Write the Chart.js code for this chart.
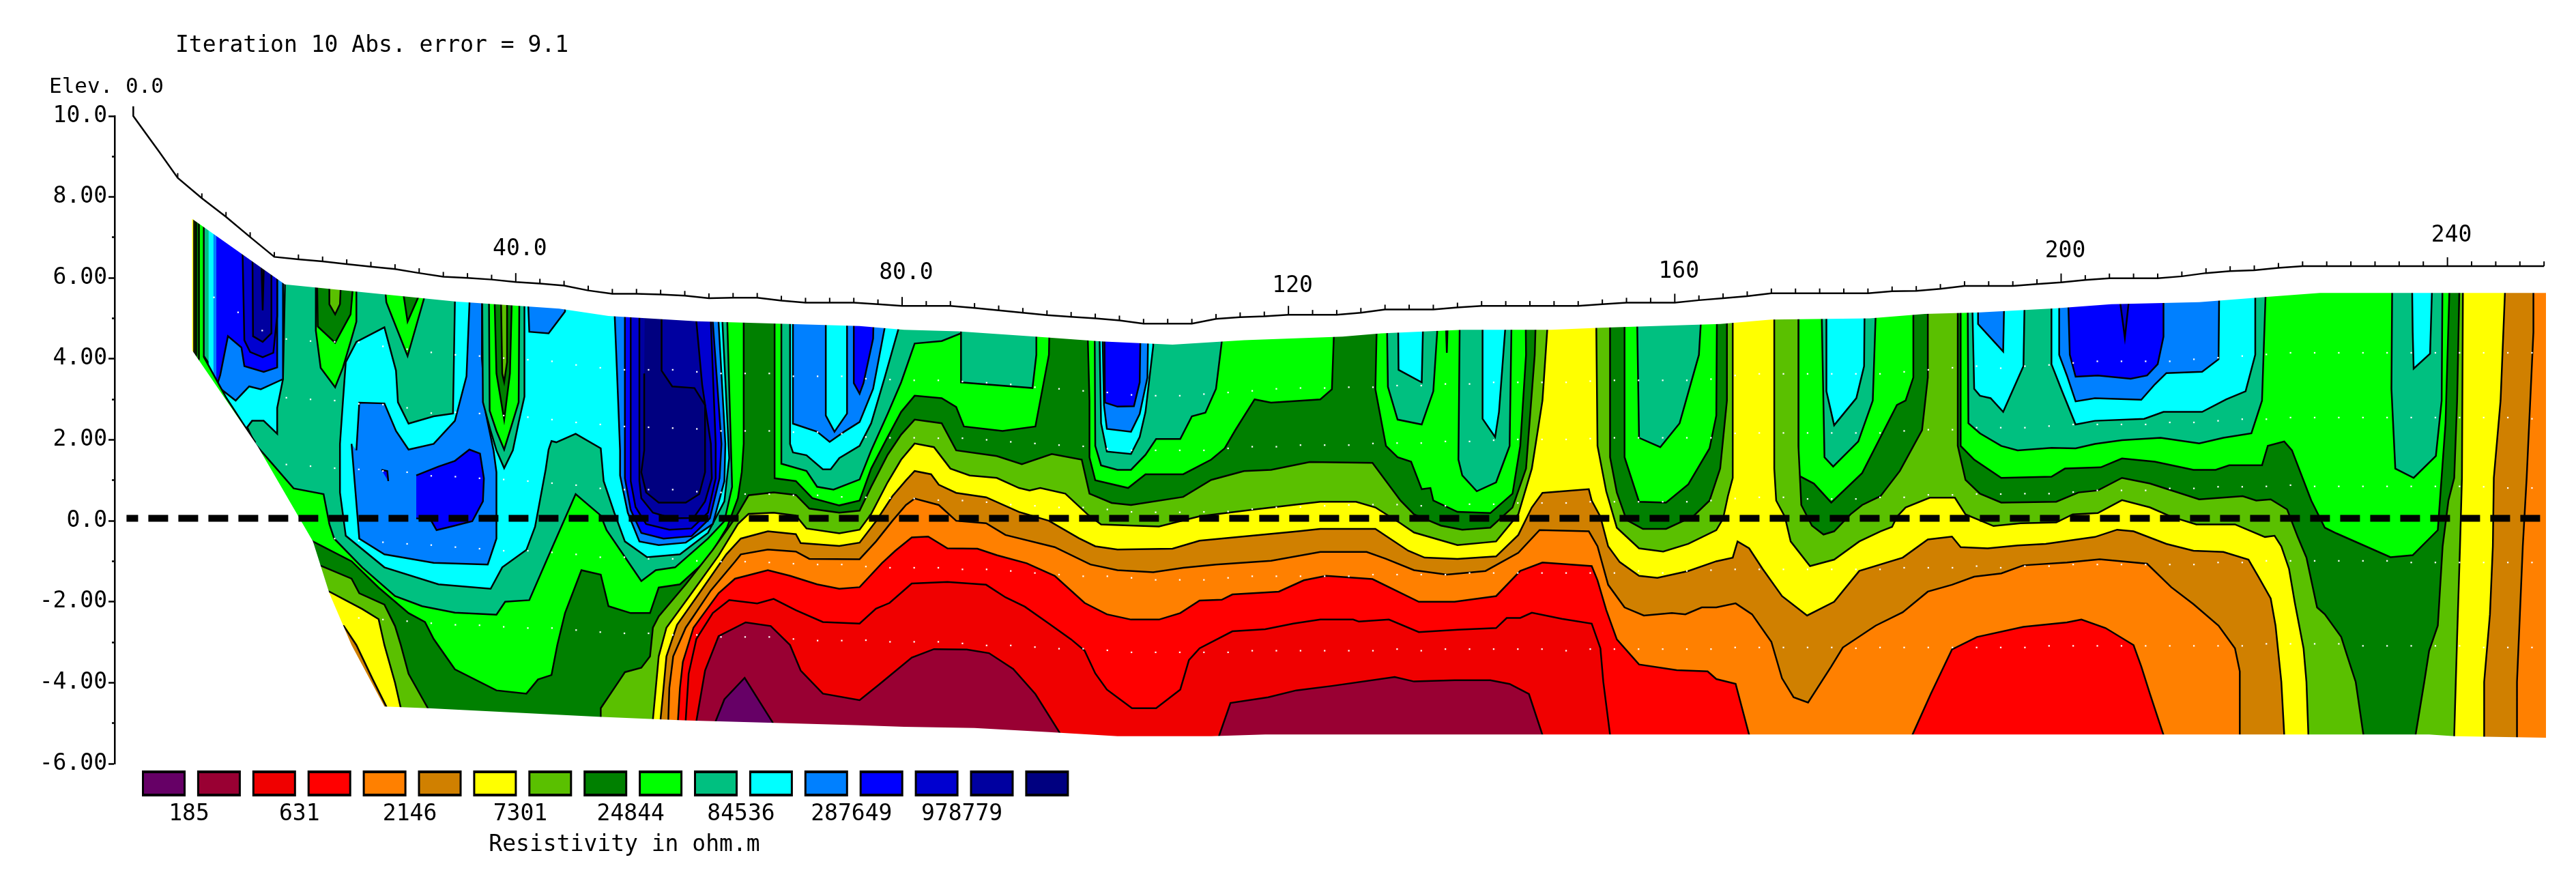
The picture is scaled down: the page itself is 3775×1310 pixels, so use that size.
<!DOCTYPE html>
<html>
<head>
<meta charset="utf-8">
<title>Iteration 10</title>
<script src="https://cdn.jsdelivr.net/npm/chart.js@4/dist/chart.umd.js"></script>
<style>
  html, body { margin: 0; padding: 0; background: #fff; }
  canvas { display: block; }
</style>
</head>
<body>
<canvas id="section" width="3775" height="1310"></canvas>
<script>
// Colour scale, lowest resistivity first
const scaleColors = ['#660066', '#990033', '#f00000', '#ff0000', '#ff8000', '#d08000', '#ffff00', '#5ac000',
  '#008000', '#00ff00', '#00c080', '#00ffff', '#0080ff', '#0000ff', '#0000d0', '#0000a0', '#000080'];
const scaleLabels = ['185', '631', '2146', '7301', '24844', '84536', '287649', '978779'];

const elevationTicks = { '10': '10.0', '8': '8.00', '6': '6.00', '4': '4.00', '2': '2.00', '0': '0.0', '-2': '-2.00', '-4': '-4.00', '-6': '-6.00' };
const distanceLabels = ['40.0', '80.0', '120', '160', '200', '240'];
const distanceLabelX = [40, 80, 120, 160, 200, 240];
const distanceLabelElev = [6.71, 6.12, 5.8, 6.15, 6.66, 7.04];

// Ground surface and electrodes
const surfaceX = [0.4, 0.4, 1.7, 3.1, 5, 7.5, 10, 12.5, 15, 17.5, 20, 22.5, 25, 27.5, 30, 32.5, 35, 37.5, 40, 42.5, 45, 47.5, 50, 52.5, 55, 57.5, 60, 62.5, 65, 67.5, 70, 72.5, 75, 77.5, 80, 82.5, 85, 87.5, 90, 92.5, 95, 97.5, 100, 102.5, 105, 107.5, 110, 112.5, 115, 117.5, 120, 122.5, 125, 127.5, 130, 132.5, 135, 137.5, 140, 142.5, 145, 147.5, 150, 152.5, 155, 157.5, 160, 162.5, 165, 167.5, 170, 172.5, 175, 177.5, 180, 182.5, 185, 187.5, 190, 192.5, 195, 197.5, 200, 202.5, 205, 207.5, 210, 212.5, 215, 217.5, 220, 222.5, 225, 227.5, 230, 232.5, 235, 237.5, 240, 242.5, 245, 247.5, 250];
const surfaceY = [10.24, 10, 9.57, 9.11, 8.47, 7.97, 7.51, 7.01, 6.52, 6.46, 6.41, 6.34, 6.28, 6.22, 6.12, 6.03, 6, 5.96, 5.9, 5.86, 5.81, 5.69, 5.61, 5.61, 5.59, 5.56, 5.5, 5.51, 5.51, 5.44, 5.39, 5.39, 5.39, 5.35, 5.31, 5.31, 5.31, 5.26, 5.2, 5.14, 5.08, 5.04, 5, 4.95, 4.87, 4.87, 4.87, 4.99, 5.03, 5.05, 5.09, 5.09, 5.09, 5.14, 5.22, 5.22, 5.22, 5.27, 5.31, 5.31, 5.31, 5.31, 5.31, 5.35, 5.39, 5.39, 5.39, 5.45, 5.5, 5.55, 5.62, 5.62, 5.62, 5.62, 5.62, 5.67, 5.68, 5.73, 5.8, 5.8, 5.8, 5.85, 5.89, 5.95, 5.99, 5.99, 5.99, 6.04, 6.12, 6.17, 6.19, 6.25, 6.29, 6.29, 6.29, 6.29, 6.29, 6.29, 6.29, 6.29, 6.29, 6.29, 6.29];

// Edge of the inverted section
const sectionTop = [[6.5, 4.21], [6.5, 7.46], [16.1, 5.84], [33.7, 5.42], [44.5, 5.24], [49.6, 5.06], [58.7, 4.93], [75.6, 4.81], [80.2, 4.72], [85.8, 4.68], [93.8, 4.55], [100.6, 4.43], [108, 4.35], [115.4, 4.46], [125.6, 4.55], [129.6, 4.63], [138, 4.72], [147.2, 4.72], [152.3, 4.77], [164.7, 4.86], [170, 4.97], [180.2, 5], [185.9, 5.11], [191.6, 5.15], [199.5, 5.25], [205.2, 5.35], [214.3, 5.4], [221.1, 5.53], [226.8, 5.63], [250.2, 5.63]];
const sectionBottom = [[6.5, 4.21], [13.3, 1.83], [19, -0.51], [20.7, -1.79], [23, -3.07], [26.4, -4.59], [30.9, -4.63], [48.5, -4.84], [57.3, -4.93], [75.6, -5.05], [80.2, -5.09], [87.5, -5.12], [95.2, -5.22], [102.3, -5.32], [112, -5.32], [117.6, -5.28], [164.3, -5.28], [238.1, -5.28], [240.7, -5.32], [250.2, -5.36]];

// Datum points
const dotX = [8.75, 11.25, 13.75, 16.25, 18.75, 21.25, 23.75, 26.25, 28.75, 31.25, 33.75, 36.25, 38.75, 41.25, 43.75, 46.25, 48.75, 51.25, 53.75, 56.25, 58.75, 61.25, 63.75, 66.25, 68.75, 71.25, 73.75, 76.25, 78.75, 81.25, 83.75, 86.25, 88.75, 91.25, 93.75, 96.25, 98.75, 101.25, 103.75, 106.25, 108.75, 111.25, 113.75, 116.25, 118.75, 121.25, 123.75, 126.25, 128.75, 131.25, 133.75, 136.25, 138.75, 141.25, 143.75, 146.25, 148.75, 151.25, 153.75, 156.25, 158.75, 161.25, 163.75, 166.25, 168.75, 171.25, 173.75, 176.25, 178.75, 181.25, 183.75, 186.25, 188.75, 191.25, 193.75, 196.25, 198.75, 201.25, 203.75, 206.25, 208.75, 211.25, 213.75, 216.25, 218.75, 221.25, 223.75, 226.25, 228.75, 231.25, 233.75, 236.25, 238.75, 241.25, 243.75, 246.25, 248.75];
const dotRow1 = [5.52, 5.15, 4.7, 4.49, 4.44, 4.42, 4.41, 4.31, 4.24, 4.16, 4.1, 4.07, 4.02, 3.98, 3.94, 3.85, 3.78, 3.73, 3.73, 3.73, 3.68, 3.64, 3.64, 3.64, 3.57, 3.57, 3.57, 3.51, 3.49, 3.47, 3.47, 3.44, 3.41, 3.37, 3.3, 3.26, 3.21, 3.17, 3.11, 3.09, 3.09, 3.13, 3.17, 3.21, 3.26, 3.28, 3.28, 3.3, 3.3, 3.34, 3.34, 3.38, 3.38, 3.42, 3.42, 3.42, 3.42, 3.45, 3.47, 3.47, 3.47, 3.47, 3.5, 3.59, 3.63, 3.63, 3.63, 3.63, 3.63, 3.63, 3.68, 3.73, 3.78, 3.82, 3.77, 3.82, 3.85, 3.9, 3.94, 3.94, 3.94, 3.94, 3.99, 4.03, 4.07, 4.11, 4.15, 4.15, 4.15, 4.15, 4.15, 4.15, 4.15, 4.15, 4.15, 4.15, 4.15];
const dotRow2 = [null, null, null, 3.04, 3, 2.97, 2.89, 2.87, 2.79, 2.66, 2.68, 2.65, 2.6, 2.56, 2.5, 2.43, 2.38, 2.33, 2.31, 2.29, 2.27, 2.22, 2.22, 2.22, 2.19, 2.19, 2.15, 2.07, 2.05, 2.05, 2.04, 2.04, 2, 1.95, 1.91, 1.87, 1.84, 1.78, 1.74, 1.74, 1.74, 1.74, 1.79, 1.83, 1.83, 1.87, 1.87, 1.87, 1.91, 1.92, 1.92, 1.96, 1.96, 1.99, 2.01, 2.01, 2.01, 2.03, 2.05, 2.05, 2.05, 2.05, 2.05, 2.16, 2.17, 2.17, 2.17, 2.17, 2.17, 2.17, 2.22, 2.25, 2.25, 2.3, 2.3, 2.3, 2.34, 2.38, 2.38, 2.38, 2.38, 2.43, 2.43, 2.47, 2.51, 2.51, 2.55, 2.55, 2.55, 2.55, 2.55, 2.55, 2.55, 2.55, 2.55, 2.55, 2.52];
const dotRow3 = [null, null, null, 1.39, 1.35, 1.3, 1.27, 1.23, 1.2, 1.11, 1.09, 1.05, 1.02, 0.98, 0.93, 0.88, 0.8, 0.77, 0.77, 0.77, 0.72, 0.7, 0.66, 0.66, 0.63, 0.63, 0.59, 0.58, 0.56, 0.55, 0.51, 0.5, 0.46, 0.4, 0.37, 0.33, 0.33, 0.28, 0.22, 0.21, 0.21, 0.22, 0.23, 0.29, 0.33, 0.34, 0.37, 0.39, 0.4, 0.4, 0.37, 0.37, 0.41, 0.41, 0.44, 0.44, 0.44, 0.47, 0.47, 0.47, 0.47, 0.47, 0.5, 0.55, 0.58, 0.58, 0.54, 0.54, 0.54, 0.58, 0.58, 0.64, 0.64, 0.66, 0.66, 0.67, 0.67, 0.71, 0.75, 0.75, 0.75, 0.8, 0.8, 0.84, 0.84, 0.85, 0.88, 0.85, 0.85, 0.85, 0.85, 0.85, 0.85, 0.85, 0.84, 0.81, 0.81];
const dotRow4 = [null, null, null, null, null, -0.44, -0.49, -0.53, -0.57, -0.6, -0.65, -0.69, -0.74, -0.74, -0.78, -0.83, -0.9, -0.9, -0.94, -0.94, -0.99, -1.01, -1.01, -1.03, -1.06, -1.08, -1.08, -1.13, -1.16, -1.16, -1.16, -1.2, -1.2, -1.24, -1.29, -1.33, -1.37, -1.37, -1.41, -1.46, -1.46, -1.46, -1.41, -1.37, -1.37, -1.37, -1.37, -1.37, -1.33, -1.33, -1.33, -1.33, -1.29, -1.29, -1.29, -1.29, -1.29, -1.29, -1.29, -1.24, -1.29, -1.24, -1.22, -1.2, -1.2, -1.2, -1.2, -1.2, -1.2, -1.2, -1.16, -1.16, -1.16, -1.12, -1.16, -1.12, -1.12, -1.08, -1.08, -1.08, -1.08, -1.08, -1.08, -1.03, -1.03, -0.99, -0.99, -0.99, -0.99, -0.99, -0.99, -1.03, -1.03, -1.03, -1.03, -1.03, -1.03];
const dotRow5 = [null, null, null, null, null, null, -2.4, -2.44, -2.48, -2.53, -2.57, -2.58, -2.62, -2.65, -2.65, -2.7, -2.75, -2.78, -2.78, -2.82, -2.82, -2.87, -2.87, -2.87, -2.92, -2.96, -2.96, -2.95, -2.99, -2.99, -2.99, -3.03, -3.08, -3.08, -3.12, -3.16, -3.16, -3.2, -3.25, -3.25, -3.25, -3.25, -3.25, -3.21, -3.21, -3.21, -3.21, -3.21, -3.21, -3.17, -3.21, -3.17, -3.17, -3.17, -3.17, -3.17, -3.21, -3.17, -3.17, -3.17, -3.17, -3.17, -3.17, -3.13, -3.13, -3.13, -3.13, -3.13, -3.15, -3.13, -3.13, -3.13, -3.13, -3.13, -3.13, -3.13, -3.09, -3.09, -3.09, -3.09, -3.09, -3.09, -3.09, -3.09, -3.09, -3.04, -3.04, -3.04, -3.04, -3.09, -3.09, -3.09, -3.09, -3.09, -3.13, -3.13, -3.13];

// Contours, [distance, elevation]. Each one is the outline of everything at or beyond its level.
const baseGreen = [[-5, -7], [260, -7], [260, 12], [-5, 12]];

const rho8 = [[17, -0.3], [19, -0.51], [23, -1], [25.8, -1.65], [28.9, -2.28], [30.6, -2.5], [31.5, -2.92], [33.7, -3.67], [38, -4.19], [41.1, -4.27], [42.3, -3.92], [43.7, -3.81], [44.3, -3.07], [45.1, -2.28], [46.8, -1.22], [48.8, -1.33], [49.6, -2.11], [51.9, -2.28], [53.9, -2.28], [54.8, -1.65], [57, -1.57], [59.9, -0.94], [61.9, -0.15], [63, 0.56], [63.4, 1.2], [63.6, 1.9], [63.6, 6.5], [66.8, 6.5], [66.8, 1.05], [69, 0.98], [70.7, 0.56], [73.5, 0.38], [75.6, 0.5], [76.8, 1.29], [78.5, 2.07], [79.9, 2.69], [81.3, 3.09], [84.1, 3.03], [85.6, 2.81], [86.4, 2.33], [90.4, 2.22], [93.8, 2.33], [95.2, 4.1], [95.4, 6.5], [99, 6.5], [99.4, 2.97], [99.4, 1.57], [100, 1], [103.4, 0.81], [105.2, 1.15], [109.1, 1.15], [112, 1.51], [113.4, 1.79], [114.5, 2.24], [116.5, 3], [118.2, 2.92], [123.3, 3], [124.5, 3.25], [125, 6.5], [129.3, 6.5], [129, 3.25], [130.1, 1.85], [131.3, 1.57], [132.7, 1.46], [133.8, 0.78], [134.7, 0.81], [135, 0.5], [137.5, 0.22], [140.9, 0.19], [143.2, 0.67], [144, 1.85], [144.6, 4.1], [144.5, 6.5], [154.8, 6.5], [154.8, 1.57], [156.3, 0.47], [159.1, 0.45], [161.4, 0.9], [163.6, 1.79], [164.3, 2.6], [164.4, 6.5], [172.8, 6.5], [172.8, 1.12], [174.4, 0.92], [176.2, 0.45], [179.4, 1.18], [183, 2.86], [183.9, 2.97], [184.7, 3.54], [184.7, 6.5], [189.6, 6.5], [189.6, 1.85], [191, 1.51], [193.8, 1.06], [199, 1.09], [200.4, 1.29], [204.1, 1.32], [206.3, 1.54], [209.7, 1.46], [213.7, 1.26], [216, 1.26], [217.4, 1.37], [220.8, 1.37], [221.4, 1.85], [223.1, 1.96], [223.9, 1.74], [225.9, 0.5], [227.3, -0.17], [228.5, -0.31], [234.1, -0.9], [236.4, -0.85], [239, -0.23], [239.8, 2.41], [240.2, 5.67], [240.2, 6.5], [260, 6.5], [260, -7], [15, -7]];

const rho7 = [[18, -1], [19.8, -1.11], [23, -1.43], [23.8, -1.79], [26.4, -2.07], [27.5, -2.6], [28.1, -3.07], [28.9, -3.78], [30.9, -4.63], [31, -5.6], [48.8, -5.6], [48.8, -4.63], [50.8, -3.92], [51.3, -3.74], [53, -3.63], [53.9, -3.35], [54.2, -2.64], [54.8, -2.36], [57.6, -1.57], [60.4, -0.72], [62.7, 0.06], [64.1, 0.63], [66.7, 0.7], [69, 0.64], [70.4, 0.3], [73.5, 0.2], [75.6, 0.25], [76.8, 0.84], [78.5, 1.63], [79.9, 2.13], [81.3, 2.5], [84.1, 2.41], [85.6, 1.74], [89.8, 1.6], [92.4, 1.4], [95.5, 1.65], [98.6, 1.51], [99.4, 0.67], [101.7, 0.44], [103.7, 0.39], [109.1, 0.59], [112, 1.01], [115.4, 1.23], [118.2, 1.26], [122.2, 1.45], [128.7, 1.43], [131.6, 0.5], [133, 0.16], [135.8, -0.12], [138, -0.22], [140.9, -0.17], [143.2, 0.33], [144.6, 1.29], [145.5, 4.1], [145.8, 6.5], [153.3, 6.5], [153.3, 1.57], [154, 0.7], [155, 0.02], [156.7, -0.2], [159.1, -0.2], [161.9, 0.11], [163.6, 0.5], [164.7, 1.29], [165.4, 2.97], [165.4, 6.5], [172.8, 6.5], [172.8, 1.85], [173.1, 0.39], [174.2, -0.12], [175.4, -0.34], [176.5, -0.26], [178.2, 0.16], [179.4, 0.39], [181.3, 0.61], [183.3, 1.23], [185.6, 2.24], [186.2, 3.54], [186.2, 6.5], [189.3, 6.5], [189.3, 1.85], [190.1, 1.01], [191.6, 0.67], [193.8, 0.45], [199.5, 0.47], [201.8, 0.7], [203.8, 0.75], [206.3, 1.06], [209.2, 0.92], [214.3, 0.53], [218.8, 0.61], [220.2, 0.5], [221.7, 0.53], [223.4, 0.28], [224.5, -0.4], [225.4, -0.91], [226.5, -2.14], [227.3, -2.31], [229, -2.87], [229.6, -3.32], [230.5, -3.98], [231.3, -5.29], [231.3, -5.6], [236.7, -5.6], [236.7, -5.29], [237.6, -3.98], [238.1, -3.21], [239, -2.59], [239.5, -0.63], [240.1, 0.5], [240.7, 1.06], [241, 2.97], [241.3, 6.5], [260, 6.5], [260, -7], [15, -7]];

const rho6 = [[19, -1.7], [20.7, -1.75], [24.1, -2.18], [25.8, -2.43], [26.4, -3.07], [27.5, -4], [28.1, -4.63], [28.2, -5.6], [54.1, -5.6], [54.2, -4.91], [54.5, -4.13], [54.8, -3.35], [55.6, -2.64], [58.2, -1.79], [61, -0.86], [63, -0.08], [64.1, 0.17], [66.7, 0.2], [69, 0.13], [70.1, -0.19], [73.5, -0.31], [75.6, -0.22], [76.8, 0.17], [78.5, 0.95], [79.9, 1.51], [81.3, 1.91], [83.3, 1.82], [85, 1.29], [87, 1.12], [89.8, 1.06], [92.1, 0.81], [93.2, 0.75], [94.3, 0.81], [96.9, 0.67], [99.2, 0.16], [100.6, -0.09], [104, -0.12], [106.6, -0.14], [110.8, 0.11], [116.5, 0.28], [123.3, 0.47], [127, 0.47], [129, 0.33], [131.6, -0.06], [133, -0.29], [137.5, -0.6], [141.5, -0.51], [143.8, 0.16], [145.2, 1.29], [146.3, 2.97], [147.3, 6.5], [151.8, 6.5], [152, 1.85], [152.9, 0.73], [154, -0.17], [156.3, -0.68], [158.8, -0.76], [161.4, -0.57], [164.3, -0.23], [165, 0.05], [165.5, 0.61], [166, 1.06], [166, 2.97], [166, 6.5], [170.3, 6.5], [170.3, 1.29], [170.5, 0.5], [171.4, 0.1], [172, -0.51], [174, -1.12], [176.5, -0.96], [179.1, -0.51], [181.3, -0.26], [182.5, -0.15], [183, 0.1], [183.9, 0.33], [186.4, 0.57], [189, 0.57], [190.1, 0.16], [193, -0.13], [195.8, -0.06], [199.5, -0.04], [201.2, 0.16], [203.8, 0.19], [206.3, 0.51], [209.2, 0.33], [211.4, 0.1], [214, -0.09], [218, -0.09], [221.1, -0.4], [222.1, -0.37], [222.8, -0.63], [223.6, -1.19], [224.2, -2.03], [225.1, -3.15], [225.4, -3.98], [225.6, -5.29], [225.7, -5.6], [240.7, -5.6], [240.7, -5.29], [241, -2.87], [241.3, -0.63], [241.5, 1.06], [241.6, 5.67], [241.6, 6.5], [260, 6.5], [260, -7], [15, -7]];

const rho5 = [[20, -2.5], [22.2, -2.6], [23.5, -3.07], [25.2, -3.92], [26.6, -4.59], [26.6, -5.6], [55, -5.6], [55, -4.88], [55.3, -4.13], [55.6, -3.35], [56.7, -2.57], [59, -1.79], [61.8, -0.83], [63.3, -0.44], [66.1, -0.26], [69, -0.33], [69.5, -0.55], [73.5, -0.62], [75.6, -0.54], [77.3, -0.01], [79, 0.61], [80.4, 1], [81.3, 1.23], [83, 1.15], [83.8, 0.89], [85.6, 0.69], [88.7, 0.58], [92.1, 0.22], [95.2, 0], [98.3, -0.43], [100, -0.63], [102.3, -0.71], [108, -0.69], [110.8, -0.49], [121, -0.26], [123.3, -0.2], [129, -0.2], [132.4, -0.74], [134.1, -0.91], [137.5, -0.94], [141.5, -0.88], [143.8, -0.35], [145.2, 0.33], [146.3, 0.69], [151.1, 0.78], [151.4, 0.5], [152.3, 0.1], [153.1, -0.63], [154.3, -1.02], [156.3, -1.36], [158.2, -1.41], [161.4, -1.24], [164.3, -1], [166, -0.91], [166.5, -0.51], [167.7, -0.68], [169.1, -1.19], [171.1, -1.86], [173.7, -2.34], [176.5, -2], [179.1, -1.24], [183.6, -0.91], [186.2, -0.46], [188.7, -0.39], [189.6, -0.65], [192.4, -0.68], [195.5, -0.61], [198.4, -0.57], [203.5, -0.4], [205.8, -0.22], [207.5, -0.26], [210.9, -0.57], [213.7, -0.74], [216.8, -0.77], [219.4, -0.96], [220.5, -1.41], [221.7, -1.92], [222.2, -2.59], [222.8, -3.98], [223.1, -5.29], [223.2, -5.6], [243.8, -5.6], [243.8, -3.98], [244.4, -2.31], [244.7, -0.63], [244.8, 1.06], [245.5, 2.97], [246.1, 6.5], [260, 6.5], [260, -7], [15, -7]];

const rho4 = [[55.8, -5.6], [55.8, -4.88], [55.9, -4.13], [56.3, -3.35], [57.6, -2.64], [60.2, -1.72], [62.7, -1.01], [63.3, -0.83], [66.1, -0.71], [69, -0.76], [70.4, -0.94], [75.6, -0.95], [77.3, -0.51], [79, 0], [80.4, 0.39], [81.3, 0.55], [83.8, 0.39], [85.6, 0], [88.7, -0.06], [90.7, -0.35], [95.8, -0.65], [99.5, -1.08], [102.3, -1.22], [106, -1.27], [109.1, -1.16], [112.5, -1.08], [118.2, -0.99], [123.3, -0.77], [128.1, -0.77], [130.1, -0.94], [133, -1.22], [136.4, -1.33], [140.4, -1.24], [143.8, -0.79], [146, -0.23], [151.1, -0.26], [152, -0.63], [153.1, -1.58], [154.8, -2.14], [156.8, -2.34], [159.7, -2.28], [161.1, -2.31], [162.8, -2.14], [164.3, -2.14], [166.3, -2.04], [168, -2.31], [170, -2.99], [171.1, -3.89], [172.3, -4.36], [173.8, -4.49], [176.2, -3.6], [177.4, -3.13], [180.8, -2.59], [183.6, -2.26], [186.2, -1.75], [188.7, -1.58], [191, -1.38], [193.8, -1.3], [196.1, -1.1], [200.6, -1.03], [204, -0.95], [208.9, -1.06], [211.4, -1.64], [213.7, -2.06], [216.3, -2.59], [218, -3.15], [218.5, -3.72], [218.5, -5.29], [218.5, -5.6], [247.2, -5.6], [247.2, -3.98], [247.8, -0.63], [248.2, 1.06], [248.9, 4.66], [248.9, 6.5], [260, 6.5], [260, -7], [40, -7]];

const rho3Left = [[56.8, -5.6], [56.8, -4.91], [57, -4.13], [57.3, -3.49], [58.4, -2.64], [61, -1.79], [62.7, -1.43], [66.1, -1.22], [68.4, -1.36], [71.2, -1.57], [73.5, -1.68], [75.6, -1.64], [77.9, -1.05], [79.3, -0.74], [81, -0.41], [82.7, -0.39], [84.7, -0.68], [87.8, -0.69], [89.8, -0.85], [92.9, -1.05], [95.8, -1.36], [98.9, -2.03], [101.2, -2.31], [103.7, -2.44], [106.6, -2.44], [108.8, -2.28], [110.8, -1.97], [113.1, -1.95], [114.2, -1.82], [119, -1.75], [121.6, -1.47], [123.9, -1.36], [128.7, -1.44], [133.5, -2], [137.2, -2], [141.5, -1.86], [144, -1.24], [146.3, -1.03], [151.4, -1.12], [152, -1.47], [152.9, -2.2], [154, -2.93], [156.3, -3.55], [160.2, -3.69], [163.4, -3.72], [164.3, -3.91], [166.3, -4.03], [167.7, -5.29], [167.7, -5.6]];
const rho3Right = [[184.6, -5.6], [184.6, -5.29], [186.5, -4.28], [188.7, -3.18], [191.3, -2.87], [196.1, -2.62], [200.6, -2.51], [202.1, -2.44], [204.6, -2.65], [207.5, -3.07], [208.3, -3.6], [209.2, -4.28], [210.6, -5.29], [210.6, -5.6]];

const rho2 = [[57.6, -5.6], [57.6, -4.91], [57.9, -3.78], [58.7, -2.92], [60.4, -2.28], [62.1, -1.96], [65, -2.04], [66.7, -1.93], [69, -2.21], [71.8, -2.5], [75.6, -2.54], [77.3, -2.17], [78.7, -2.03], [81, -1.55], [84.7, -1.51], [88.7, -1.58], [90.7, -1.89], [92.7, -2.12], [95.2, -2.54], [97.5, -2.93], [98.9, -3.21], [100, -3.77], [101.2, -4.17], [103.8, -4.63], [106.3, -4.63], [108.8, -4.17], [109.7, -3.44], [110.8, -3.15], [114.2, -2.73], [117.6, -2.68], [120.5, -2.54], [123.3, -2.44], [126.7, -2.44], [127.3, -2.49], [130.4, -2.44], [133.5, -2.75], [137.5, -2.69], [141.5, -2.65], [142.6, -2.4], [144, -2.4], [145.2, -2.27], [148.3, -2.42], [151.4, -2.54], [152.3, -3.15], [152.6, -3.98], [153.3, -5.29], [153.3, -5.6]];

const rho1Left = [[58.7, -5.6], [58.7, -4.95], [59.6, -3.7], [61, -2.85], [63.8, -2.51], [66.4, -2.6], [68.4, -3.07], [69.5, -3.7], [71.8, -4.27], [75.6, -4.43], [77.6, -4.05], [81, -3.38], [83.3, -3.17], [86.7, -3.18], [89, -3.27], [91.5, -3.66], [93.8, -4.28], [96.3, -5.23], [96.4, -5.6]];
const rho1Right = [[112.4, -5.6], [114, -4.5], [117.9, -4.36], [120.8, -4.19], [124.5, -4.08], [131, -3.86], [133, -3.97], [137.2, -3.94], [140.9, -3.94], [142.9, -4.03], [144.9, -4.28], [146.3, -5.29], [146.3, -5.6]];
const rho0 = [[60.7, -5.6], [60.7, -4.95], [61.6, -4.41], [63.7, -3.88], [65.3, -4.49], [66.6, -4.98], [66.6, -5.6]];

// Level 84536 and up
const high10Main = [[7.7, 8.5], [61.9, 8.5], [61.9, 4.92], [62.4, 0.84], [61.6, -0.01], [59.9, -0.44], [56.5, -1.15], [54.5, -1.22], [53, -1.49], [49.4, -0.23], [48.8, 0.13], [46.2, 0.66], [43.4, -0.86], [41.4, -1.96], [38.9, -2], [38, -2.32], [33.7, -2.27], [30.3, -2.11], [27.5, -1.86], [24.1, -1.15], [21.2, -0.44], [20.7, -0.08], [20.1, 0.66], [17, 0.8], [13, 1.9], [11, 2.93], [7.7, 4.07]];
const high10Mid = [[67.5, 6.5], [67.5, 1.41], [70.1, 1.23], [71.2, 0.84], [72.9, 0.77], [75.6, 1.02], [76.8, 1.74], [78.5, 2.64], [79.9, 3.42], [81.3, 4.38], [84.1, 4.44], [86.1, 4.63], [86.1, 6.5]];
const high10Block = [[86.1, 6.5], [86.1, 3.42], [88.7, 3.37], [93.5, 3.28], [93.9, 4.1], [93.9, 6.5]];
const high10Pit = [[99.9, 6.5], [100, 1.85], [100.6, 1.37], [102.3, 1.26], [103.7, 1.26], [105.2, 1.63], [106.3, 2.02], [108.8, 2.02], [110, 2.58], [111.4, 2.67], [112.5, 3.26], [113.1, 4.43], [113.1, 6.5]];
const high10Narrow1 = [[130.1, 6.5], [130.3, 3.31], [131.3, 2.5], [133.8, 2.38], [135, 3.2], [135.4, 4.66], [135.4, 6.5]];
const high10Narrow2 = [[137.8, 6.5], [137.6, 1.51], [138, 1.12], [139.5, 0.73], [141.5, 0.95], [142.9, 1.85], [143.2, 6.5]];
const high10Narrow3 = [[156, 6.5], [156.3, 2.05], [158.5, 1.82], [160.5, 2.41], [162.5, 4.1], [163.1, 6.5]];
const high10Narrow4 = [[175.1, 6.5], [175.5, 1.57], [176.4, 1.34], [179, 1.96], [180.5, 2.97], [181, 6.5]];
const high10Wide = [[190.3, 6.5], [190.4, 2.41], [191.6, 2.16], [193.8, 1.85], [195.5, 1.74], [199, 1.8], [201.5, 1.79], [203.5, 1.9], [206.3, 1.99], [210.3, 2.05], [214.3, 1.91], [216.8, 2.05], [219.7, 2.16], [220.8, 2.97], [221.3, 6.5]];
const high10Far = [[234.3, 6.5], [234.2, 3.26], [234.6, 1.29], [236.5, 1.06], [238.8, 1.6], [239.4, 2.97], [239.5, 6.5]];

// Next level up, cyan
const high11Left = [[8.2, 8.5], [16.1, 8.5], [16.1, 5.77], [15.9, 3.5], [15.3, 2.79], [15.3, 2.15], [13.9, 2.47], [12.7, 2.47], [11.9, 2.22], [8.2, 3.6]];
const high11Main = [[34, 6.5], [61.4, 6.5], [61.4, 4.9], [62.1, 1.55], [61.6, 0.48], [59.9, -0.3], [57, -0.83], [53.6, -0.9], [51.3, -0.51], [50.2, 0.2], [49.1, 0.98], [48.8, 1.79], [46.2, 2.15], [44.2, 1.94], [43.7, 1.97], [43.4, 1.76], [43.1, 1.27], [42, -0.15], [41.1, -0.72], [38.6, -1.15], [37.4, -1.68], [32, -1.57], [26.4, -1.15], [22.4, -0.37], [21.8, 0.7], [21.8, 1.9], [22.1, 2.93], [22.4, 3.92], [23.5, 4.42], [26.4, 4.78], [27.6, 3.71], [27.8, 2.93], [28.9, 2.4], [31.5, 2.58], [33.5, 2.65], [33.7, 5.42]];
const high11Mid = [[68.4, 6.5], [68.4, 1.9], [68.7, 1.69], [70.1, 1.62], [71.8, 1.27], [72.6, 1.27], [73.5, 1.55], [75.6, 1.85], [76.8, 2.41], [78.2, 3.54], [79.6, 4.72], [79.6, 6.5]];
const high11Pit = [[100.3, 6.5], [100.6, 2.41], [101.2, 1.71], [103.7, 1.65], [104.6, 2.07], [105.2, 2.69], [106, 4.32], [106, 6.5]];
const high11Narrow1 = [[131.3, 6.5], [131.4, 3.73], [133.8, 3.42], [134.1, 6.5]];
const high11Narrow2 = [[140.1, 6.5], [140.1, 2.52], [141.4, 2.07], [141.8, 2.69], [143, 6.5]];
const high11Narrow4 = [[175.7, 6.5], [175.7, 3.2], [176.5, 2.36], [178.8, 3.03], [179.6, 3.82], [179.7, 6.5]];
const high11Wide = [[190.7, 6.5], [191, 3.26], [191.6, 3.09], [192.7, 3.03], [194, 2.69], [196.1, 3.82], [196.3, 6.5], [199, 6.5], [199, 3.87], [200.1, 3.2], [201.5, 2.38], [203.5, 2.47], [208.6, 2.52], [210.6, 2.69], [214.6, 2.69], [217.1, 3], [219.1, 3.2], [220.1, 4.1], [220.1, 6.5]];
const high11Far = [[236.3, 6.5], [236.4, 4.66], [236.5, 3.76], [238.2, 4.13], [238.5, 6.5]];

// Level 287649 and up
const high12Left = [[8.7, 8.5], [15.9, 8.5], [15.9, 3.5], [13.6, 3.25], [12.4, 3.32], [11, 2.97], [8.7, 3.4]];
const high12Lobe = [[23.5, 1.74], [23.8, 2.92], [26.4, 2.9], [27.6, 2.22], [28.9, 1.76], [31.5, 1.9], [33.7, 2.47], [34.9, 3.57], [35.4, 6.5], [36.5, 6.5], [36.5, 4], [36.9, 2.65], [37.7, 1.74], [38, 1.2], [38, -0.44], [37.1, -1.08], [31.5, -1.04], [26.4, -0.83], [23.8, -0.44], [23, 1.9]];
const high12Patch = [[41.1, 6.5], [41.4, 4.67], [43.4, 4.63], [45.1, 5.17], [45.1, 6.5]];
const high12Deep = [[50, 6.5], [50.5, 3.57], [50.8, 1.74], [50.8, 1.12], [51.6, 0.2], [52.8, -0.51], [54.8, -0.6], [57.6, -0.54], [60.4, -0.08], [61.6, 0.98], [61.7, 1.9], [61, 4.9], [61, 6.5]];
const high12Mid = [[68.7, 6.5], [68.7, 2.4], [71.2, 2.2], [72.5, 1.95], [74, 2.2], [75.6, 2.44], [77, 3.26], [78.2, 4.77], [78.2, 6.5], [74.3, 6.5], [74.3, 2.65], [73, 2.2], [72.1, 2.6], [72.1, 6.5]];
const high12Pit = [[100.6, 6.5], [100.9, 2.86], [101.2, 2.27], [103.7, 2.2], [104.6, 2.64], [105.4, 3.54], [105.6, 6.5]];
const high12Wide1 = [[191.4, 6.5], [191.4, 4.86], [192.4, 4.6], [194, 4.18], [194.2, 6.5]];
const high12Wide2 = [[199.8, 6.5], [199.8, 4.1], [200.6, 3.59], [201.5, 2.95], [203.5, 3.03], [208.3, 2.99], [209.7, 3.37], [210.9, 3.65], [214.6, 3.68], [216.3, 3.99], [216.4, 6.5]];

// Next level up, pure blue
const high13Left = [[9, 8.5], [15.3, 8.5], [15.3, 3.79], [13.9, 3.68], [11.9, 3.82], [11.6, 4.28], [10.2, 4.56], [9.4, 3.6], [9, 3.3]];
const high13Lobe = [[29.7, 1.12], [32, 1.34], [33.7, 1.48], [35.2, 1.76], [36.3, 1.66], [36.7, 1.05], [36.6, 0.48], [35.5, -0.01], [33.2, -0.15], [31.8, -0.23], [31.2, 0.02], [29.7, 0.06]];
const high13Sliver = [[26.1, 1.26], [26.7, 1.23], [26.8, 0.98]];
const high13Deep = [[51.3, 6.5], [51.3, 1.74], [51.3, 1.05], [51.9, 0.27], [53, -0.3], [55.3, -0.44], [58.2, -0.38], [60.1, 0.06], [61.1, 1.05], [61.3, 1.9], [60.4, 4.92], [60.4, 6.5]];
const high13Mid = [[75, 6.5], [75, 3.4], [75.6, 3.14], [76, 3.4], [77, 4.5], [77.2, 6.5]];
const high13Pit = [[100.9, 6.5], [101, 2.92], [102.3, 2.82], [104, 2.83], [104.6, 3.42], [104.8, 6.5]];
const high13Wide = [[200.6, 6.5], [200.9, 4.1], [201.5, 3.56], [203.8, 3.59], [207.2, 3.51], [208.9, 3.59], [210, 3.87], [210.6, 4.55], [210.6, 6.5]];

// Level 978779 and up
const high14Left = [[11.6, 8], [11.9, 4.46], [12.5, 4.17], [13.8, 4.04], [14.9, 4.15], [15.3, 5.06], [15.3, 8]];
const high14Deep = [[51.9, 6.5], [51.9, 0.98], [52.4, 0.34], [53.5, -0.08], [55.9, -0.22], [58.2, -0.19], [59.9, 0.2], [60.7, 1.05], [60.7, 1.9], [60.2, 4.92], [60.2, 6.5]];
const high14Wedge = [[205.5, 6.5], [206.6, 4.52], [207.5, 6.5]];
const high15Left = [[12.7, 8], [12.8, 4.56], [13.8, 4.42], [14.7, 4.63], [14.7, 8]];
const high15Deep = [[52.8, 6.5], [52.8, 0.98], [53, 0.56], [54.2, 0.2], [56.2, 0.06], [58.4, 0.07], [59.6, 0.48], [60.3, 1.05], [60.2, 1.9], [59.3, 3.36], [58.7, 4.92], [58.7, 6.5]];
const high16Left = [[13.5, 8], [13.8, 5.2], [14.1, 8]];
const high16Deep = [[53.4, 6.5], [55.1, 6.5], [55.1, 3.71], [56.2, 3.32], [58.5, 3.28], [59.6, 2.86], [59.6, 1.2], [59, 0.66], [57.6, 0.45], [54.8, 0.45], [53.5, 0.7], [53, 1.2], [53.3, 1.74], [53.3, 3.64]];

// Conductive fingers hanging from the surface inside the blue zone
const fingerAGreen = [[19.3, 6.5], [19.3, 4.7], [19.8, 3.78], [21.3, 3.3], [22.1, 3.78], [22.9, 4.42], [23.5, 4.92], [23.5, 6.5]];
const fingerADark = [[19.4, 6.5], [19.5, 4.8], [21.3, 4.4], [22.9, 5.1], [23.4, 6.5]];
const fingerAOlive = [[20.7, 6.5], [20.7, 5.35], [21.3, 5.1], [21.8, 5.35], [22, 6.5]];
const fingerBGreen = [[26.2, 6.5], [26.6, 5.4], [28.8, 4.07], [30.5, 5.49], [30.6, 6.5]];
const fingerBDark = [[27.8, 6.5], [28.8, 4.92], [29.9, 5.52], [29.9, 6.5]];
const fingerCShell = [[36.5, 6.5], [36.6, 2.93], [37.4, 2.22], [38, 1.74], [38.8, 1.3], [39.7, 1.74], [40.3, 2.43], [40.9, 3.07], [40.9, 6.5]];
const fingerCGreen = [[37.2, 6.5], [37.3, 2.72], [38, 2.22], [38.8, 1.76], [39.4, 2.22], [40.3, 2.93], [40.4, 6.5]];
const fingerCDark = [[37.7, 6.5], [38, 3.64], [38.8, 2.5], [39.4, 3.64], [39.7, 6.5]];
const fingerCOlive = [[38.4, 6.5], [38.6, 3.64], [38.8, 3.43], [39.1, 3.92], [39.1, 6.5]];
const fingerDDark = [[136.1, 6.5], [136.4, 4.15], [136.7, 6.5]];

// Thin bands along the steep left end
const leftGreen = [[5, 9], [7.7, 9], [7.7, 4.05], [10, 3.05], [13, 1.95], [5, 1]];
const leftDark = [[5, 9], [7.2, 9], [7.2, 4], [5, 3]];
const leftOlive = [[5, 9], [6.9, 9], [6.9, 4.1], [5, 3]];
const leftYellow = [[5, 9], [6.7, 9], [6.7, 4.1], [5, 3]];

// Paint order and the colour step of each outline
const contourTable = [
  [baseGreen, 9], [rho8, 8], [rho7, 7], [rho6, 6], [rho5, 5], [rho4, 4], [rho3Left, 3], [rho3Right, 3], [rho2, 2],
  [rho1Left, 1], [rho1Right, 1], [rho0, 0],
  [high10Main, 10], [high10Mid, 10], [high10Block, 10], [high10Pit, 10], [high10Narrow1, 10], [high10Narrow2, 10], [high10Narrow3, 10], [high10Narrow4, 10], [high10Wide, 10], [high10Far, 10],
  [high11Left, 11], [high11Main, 11], [high11Mid, 11], [high11Pit, 11], [high11Narrow1, 11], [high11Narrow2, 11], [high11Narrow4, 11], [high11Wide, 11], [high11Far, 11],
  [high12Left, 12], [high12Lobe, 12], [high12Patch, 12], [high12Deep, 12], [high12Mid, 12], [high12Pit, 12], [high12Wide1, 12], [high12Wide2, 12],
  [high13Left, 13], [high13Lobe, 13], [high13Sliver, 13], [high13Deep, 13], [high13Mid, 13], [high13Pit, 13], [high13Wide, 13],
  [high14Left, 14], [high14Deep, 14], [high14Wedge, 14], [high15Left, 15], [high15Deep, 15], [high16Left, 16], [high16Deep, 16],
  [fingerAGreen, 9], [fingerADark, 8], [fingerAOlive, 7], [fingerBGreen, 9], [fingerBDark, 8],
  [fingerCShell, 10], [fingerCGreen, 9], [fingerCDark, 8], [fingerCOlive, 7], [fingerDDark, 8],
  [leftGreen, 9], [leftDark, 8], [leftOlive, 7], [leftYellow, 6]
];

const FONT = '"DejaVu Sans Mono", monospace';

function toPoints(pairs) {
  return pairs.map(p => ({ x: p[0], y: p[1] }));
}

// White areas around the section hide the parts of the outlines that run past its edge.
// The lower one starts a little higher so no seam shows where the two meet.
const maskAbove = [[-3, 12], [252, 12], [252, 5.63]].concat(sectionTop.slice().reverse(), [[-3, 4.21]]);
const maskBelow = [[-3, 4.4], [6.4, 4.4]].concat(sectionBottom, [[252, -5.36], [252, -7], [-3, -7]]);

const datasets = [];

contourTable.forEach(([pairs, level]) => {
  datasets.push({
    data: toPoints(pairs),
    backgroundColor: scaleColors[level],
    borderColor: '#000',
    borderWidth: pairs === baseGreen ? 0 : 2.5,
    fill: 'shape',
    pointRadius: 0,
    tension: 0
  });
});

[maskAbove, maskBelow].forEach(pairs => {
  datasets.push({ data: toPoints(pairs), backgroundColor: '#fff', borderWidth: 0, fill: 'shape', pointRadius: 0, tension: 0 });
});

// Datum points
[dotRow1, dotRow2, dotRow3, dotRow4, dotRow5].forEach(row => {
  datasets.push({
    data: row.map((y, i) => ({ x: dotX[i], y })).filter(p => p.y !== null),
    showLine: false,
    pointStyle: 'rect',
    pointRadius: 1.6,
    pointBackgroundColor: '#fff',
    pointBorderWidth: 0
  });
});

// Ground surface
datasets.push({
  data: surfaceX.map((x, i) => ({ x, y: surfaceY[i] })),
  borderColor: '#000',
  borderWidth: 2.5,
  pointRadius: 0,
  tension: 0,
  clip: false
});

// Electrode marks, longer every 40 m
const isLongTick = x => x % 40 === 0;
datasets.push({
  data: surfaceX.slice(4).map((x, i) => ({ x, y: surfaceY[i + 4] + (isLongTick(x) ? 0.11 : 0.06) })),
  showLine: false,
  pointStyle: 'line',
  rotation: 90,
  pointRadius: ctx => (isLongTick(surfaceX[ctx.dataIndex + 4]) ? 6.5 : 3.5),
  pointBorderColor: '#000',
  pointBorderWidth: 2,
  clip: false
});

// Sea level marker
datasets.push({
  data: [{ x: -0.3, y: 0.06 }, { x: 250.2, y: 0.06 }],
  borderColor: '#000',
  borderWidth: 10,
  borderDash: [29, 15],
  borderDashOffset: 12,
  pointRadius: 0
});

datasets.forEach((ds, i) => { ds.order = datasets.length - i; });

const sectionText = {
  id: 'sectionText',
  afterDraw(chart) {
    const { ctx, scales } = chart;
    ctx.save();
    ctx.fillStyle = '#000';
    ctx.font = '33px ' + FONT;
    ctx.textBaseline = 'middle';
    ctx.textAlign = 'left';
    ctx.fillText('Iteration 10 Abs. error = 9.1', 257, 67);
    ctx.font = '31px ' + FONT;
    ctx.fillText('Elev. 0.0', 72, 128);
    ctx.font = '33px ' + FONT;

    ctx.textAlign = 'center';
    distanceLabels.forEach((text, i) => {
      ctx.fillText(text, scales.x.getPixelForValue(distanceLabelX[i]) + 6, scales.y.getPixelForValue(distanceLabelElev[i]));
    });

    // Colour key
    scaleColors.forEach((color, i) => {
      const left = 208 + i * 80.9;
      ctx.fillStyle = '#000';
      ctx.fillRect(left, 1129, 64, 38);
      ctx.fillStyle = color;
      ctx.fillRect(left + 3, 1133, 58, 30);
    });
    ctx.fillStyle = '#000';
    scaleLabels.forEach((text, i) => {
      ctx.fillText(text, 277 + i * 161.8, 1193);
    });
    ctx.fillText('Resistivity in ohm.m', 915, 1238);
    ctx.restore();
  }
};

new Chart(document.getElementById('section'), {
  type: 'line',
  data: { datasets },
  plugins: [sectionText],
  options: {
    responsive: false,
    animation: false,
    devicePixelRatio: 1,
    layout: { padding: { left: 0, right: 44, top: 170, bottom: 191 } },
    plugins: { legend: { display: false }, tooltip: { enabled: false } },
    scales: {
      x: { type: 'linear', display: false, min: -1.53, max: 250.2 },
      y: {
        type: 'linear',
        min: -6,
        max: 10,
        afterFit(scale) { scale.width = 168; },
        border: { display: true, color: '#000', width: 2.5, z: 1 },
        grid: {
          drawOnChartArea: false,
          z: 1,
          tickLength: 9,
          tickWidth: 2.5,
          tickColor: '#000',
          tickBorderDash: ctx => (elevationTicks[ctx.tick.value] ? [] : [0, 5, 4, 0])
        },
        ticks: {
          z: 1,
          stepSize: 1,
          autoSkip: false,
          maxRotation: 0,
          padding: 2,
          color: '#000',
          font: { family: FONT, size: 33 },
          callback: value => elevationTicks[value] || ''
        }
      }
    }
  }
});
</script>
</body>
</html>
